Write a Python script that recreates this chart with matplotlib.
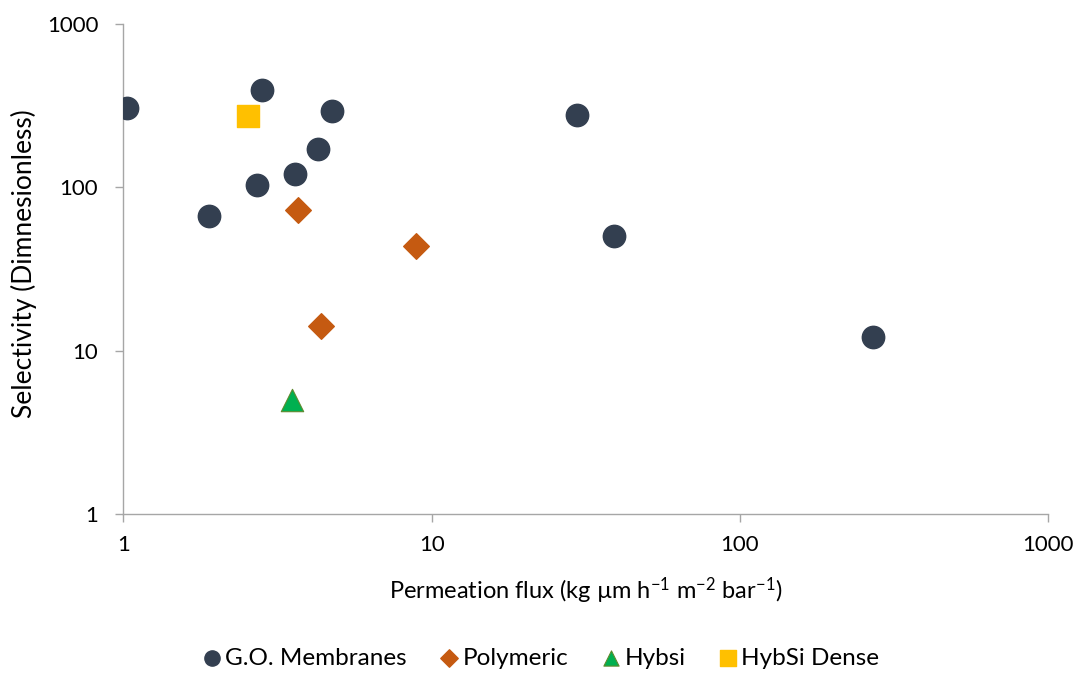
import matplotlib
matplotlib.use("Agg")
import matplotlib.pyplot as plt
from matplotlib.ticker import FixedLocator, FixedFormatter, NullLocator

plt.rcParams['font.family'] = ['Lato', 'DejaVu Sans']
plt.rcParams['mathtext.default'] = 'regular'

go_x = [1.03, 1.90, 2.72, 2.82, 3.61, 4.29, 4.76, 29.7, 38.9, 271]
go_y = [306, 66.8, 103.5, 395, 121, 172, 294, 277, 50.4, 12.1]
poly_x = [3.69, 8.92, 4.39]
poly_y = [72.7, 43.8, 14.2]
hybsi_x = [3.53]
hybsi_y = [4.99]
dense_x = [2.54]
dense_y = [274]
ticks = [1, 10, 100, 1000]
tick_labels = ["1", "10", "100", "1000"]

fig = plt.figure(figsize=(10.87, 6.73), dpi=100)
ax = fig.add_axes([0.1134, 0.2363, 0.851, 0.728])

ax.scatter(go_x, go_y, s=260, marker='o', color='#333F50', label='G.O. Membranes', zorder=3)
ax.scatter(poly_x, poly_y, s=170, marker='D', color='#C55A11', label='Polymeric', zorder=3)
ax.scatter(hybsi_x, hybsi_y, s=260, marker='^', color='#00B050', edgecolors='#5E8A2E', linewidths=0.8, label='Hybsi', zorder=3)
ax.scatter(dense_x, dense_y, s=260, marker='s', color='#FFC000', label='HybSi Dense', zorder=3)

ax.set_xscale('log')
ax.set_yscale('log')
ax.set_xlim(1, 1000)
ax.set_ylim(1, 1000)
for a in (ax.xaxis, ax.yaxis):
    a.set_major_locator(FixedLocator(ticks))
    a.set_major_formatter(FixedFormatter(tick_labels))
    a.set_minor_locator(NullLocator())

for s in ('top', 'right'):
    ax.spines[s].set_visible(False)
for s in ('left', 'bottom'):
    ax.spines[s].set_color('#A6A6A6')
    ax.spines[s].set_linewidth(1.0)
ax.tick_params(axis='both', which='major', direction='out', length=5.5, width=1.0,
               color='#A6A6A6', labelsize=16, labelcolor='#000000')
ax.tick_params(axis='x', pad=10)
ax.tick_params(axis='y', pad=12.5)

ax.set_xlabel('Permeation flux (kg µm h$^{-1}$ m$^{-2}$ bar$^{-1}$)', fontsize=17)
ax.set_ylabel('Selectivity (Dimnesionless)', fontsize=19)
ax.xaxis.set_label_coords(0.5, -0.125)
ax.yaxis.set_label_coords(-0.093, 0.51)

leg = fig.legend(loc='center', bbox_to_anchor=(0.498, 0.022), ncol=4, frameon=False,
                 fontsize=17.5, handlelength=0.7, handletextpad=0.2, columnspacing=1.4,
                 markerscale=0.68, borderaxespad=0, borderpad=0)

fig.savefig('out.png', dpi=100)
